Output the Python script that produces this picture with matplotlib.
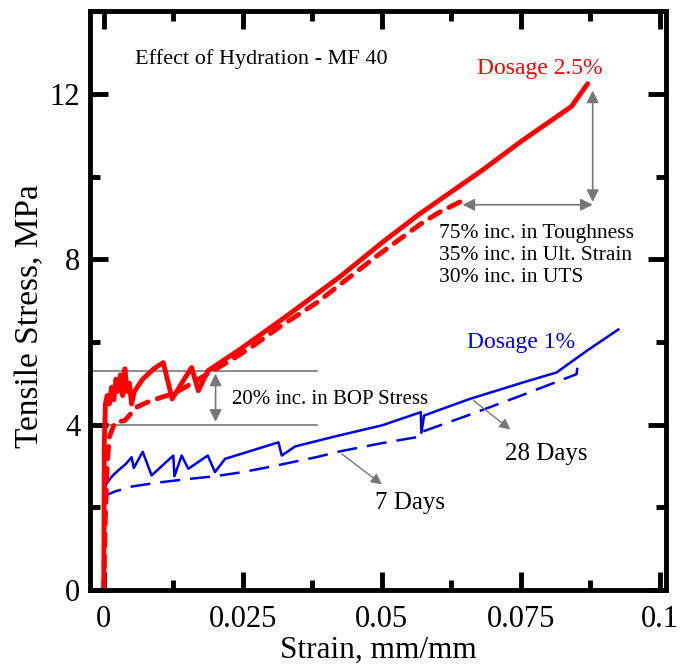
'''
Effect of hydration - tensile stress vs strain, MF 40
'''

import numpy as np
import matplotlib.pyplot as plt
from matplotlib.ticker import MultipleLocator

plt.rcParams['font.family'] = ['Liberation Serif', 'DejaVu Serif']

# Dosage 2.5%, 28 days (solid red)
red28_x = [0.0, 0.0001, 0.0003, 0.0006, 0.0010, 0.0014, 0.0018, 0.0022, 0.0026, 0.0030,
           0.0034, 0.0038, 0.0042, 0.0046, 0.0050, 0.0055, 0.0070, 0.0090, 0.0107, 0.0123,
           0.0140, 0.0158, 0.0170, 0.0187, 0.0245, 0.0326, 0.0424, 0.0500, 0.0568, 0.0680,
           0.0750, 0.0841, 0.0870]
red28_y = [0.0, 3.6, 4.5, 4.7, 4.5, 4.9, 4.6, 5.1, 4.8, 5.2,
           4.7, 5.35, 4.8, 5.0, 4.5, 4.8, 5.1, 5.35, 5.5, 4.62,
           5.0, 5.38, 4.82, 5.3, 5.82, 6.6, 7.57, 8.4, 9.1, 10.15,
           10.85, 11.7, 12.25]

# Dosage 2.5%, 7 days (dashed red)
red7_x = [0.0, 0.0003, 0.0006, 0.0010, 0.0020, 0.0038, 0.0059, 0.0080, 0.0104, 0.0125,
          0.0146, 0.0176, 0.0236, 0.0268, 0.0320, 0.0383, 0.0490, 0.0568, 0.0601, 0.0642]
red7_y = [0.0, 1.8, 3.0, 3.7, 4.05, 4.1, 4.42, 4.55, 4.66, 4.75,
          4.9, 5.14, 5.62, 5.9, 6.4, 6.95, 8.07, 8.84, 9.12, 9.4]

# Dosage 1%, 28 days (solid blue)
blue28_x = [0.0, 0.0002, 0.0005, 0.0015, 0.0026, 0.0040, 0.0050, 0.0054, 0.0070, 0.0086,
            0.0125, 0.0127, 0.0140, 0.0152, 0.0187, 0.0200, 0.0218, 0.0314, 0.0320, 0.0344,
            0.0415, 0.0500, 0.0570, 0.0571, 0.0576, 0.0658, 0.0754, 0.0814, 0.0870, 0.0925]
blue28_y = [0.0, 2.45, 2.57, 2.75, 2.89, 3.05, 3.21, 2.95, 3.34, 2.77,
            3.25, 2.75, 3.25, 2.93, 3.25, 2.85, 3.17, 3.57, 3.25, 3.47,
            3.71, 3.98, 4.3, 3.8, 4.22, 4.62, 5.02, 5.26, 5.8, 6.3]

# Dosage 1%, 7 days (dashed blue)
blue7_x = [0.0, 0.0003, 0.0006, 0.0020, 0.0050, 0.0100, 0.0150, 0.0200, 0.0250, 0.0300,
           0.0385, 0.0424, 0.0500, 0.0565, 0.0571, 0.0650, 0.0750, 0.0850, 0.0852]
blue7_y = [0.0, 2.0, 2.3, 2.38, 2.5, 2.6, 2.68, 2.75, 2.85, 2.98,
           3.22, 3.35, 3.55, 3.7, 3.82, 4.2, 4.7, 5.22, 5.45]

bop_low = 4.0
bop_high = 5.3

fig = plt.figure(figsize=(6.86, 6.68), dpi=100)
ax = fig.add_axes([0.131, 0.117, 0.840, 0.866])

ax.plot(blue7_x, blue7_y, color='#0000ee', lw=1.8, ls=(0, (8, 4)))
ax.plot(blue28_x, blue28_y, color='#0000ee', lw=1.8)
ax.plot(red7_x, red7_y, color='#ff0000', lw=3.5, ls=(0, (2.5, 2)), dash_capstyle='round')
ax.plot(red28_x, red28_y, color='#ff0000', lw=3.5, solid_capstyle='round')

# BOP stress band
ax.plot([-0.003, 0.0383], [bop_high, bop_high], color='#777777', lw=1.2, zorder=1)
ax.plot([-0.003, 0.0383], [bop_low, bop_low], color='#777777', lw=1.2, zorder=1)
ax.annotate('', xy=(0.0201, bop_low), xytext=(0.0201, bop_high),
            arrowprops=dict(arrowstyle='<|-|>', color='#777777', lw=1.2, mutation_scale=18))
ax.text(0.0230, 4.6, '20% inc. in BOP Stress', fontsize=15, va='center')

# ultimate strength / strain arrows
ax.annotate('', xy=(0.0879, 12.15), xytext=(0.0879, 9.32),
            arrowprops=dict(arrowstyle='<|-|>', color='#777777', lw=1.2, mutation_scale=18))
ax.annotate('', xy=(0.0640, 9.32), xytext=(0.0884, 9.32),
            arrowprops=dict(arrowstyle='<|-|>', color='#777777', lw=1.2, mutation_scale=18))
ax.text(0.0603, 8.63, '75% inc. in Toughness', fontsize=15.5, va='center')
ax.text(0.0603, 8.09, '35% inc. in Ult. Strain', fontsize=15.5, va='center')
ax.text(0.0603, 7.55, '30% inc. in UTS', fontsize=15.5, va='center')

ax.text(0.0783, 12.62, 'Dosage 2.5%', color='#ff0000', fontsize=17, ha='center', va='center')
ax.text(0.0751, 5.98, 'Dosage 1%', color='#0000ee', fontsize=17, ha='center', va='center')
ax.text(0.0056, 12.85, 'Effect of Hydration - MF 40', fontsize=16, va='center')

ax.annotate('', xy=(0.0735, 3.84), xytext=(0.0661, 4.62),
            arrowprops=dict(arrowstyle='-|>', color='#777777', lw=1.0, mutation_scale=16))
ax.text(0.0796, 3.29, '28 Days', fontsize=18, ha='center', va='center')
ax.annotate('', xy=(0.0504, 2.51), xytext=(0.0424, 3.33),
            arrowprops=dict(arrowstyle='-|>', color='#777777', lw=1.0, mutation_scale=16))
ax.text(0.0550, 2.09, '7 Days', fontsize=18, ha='center', va='center')

ax.set_xlim(-0.0025, 0.1011)
ax.set_ylim(0, 14)
ax.xaxis.set_major_locator(MultipleLocator(0.025))
ax.xaxis.set_minor_locator(MultipleLocator(0.0125))
ax.yaxis.set_major_locator(MultipleLocator(4))
ax.yaxis.set_minor_locator(MultipleLocator(2))
ax.set_xticks([0, 0.025, 0.05, 0.075, 0.1])
ax.set_xticklabels(['0', '0.025', '0.05', '0.075', '0.1'])
ax.tick_params(which='both', direction='in', top=True, right=True, labelsize=22, width=3.5)
ax.tick_params(axis='x', pad=11)
ax.tick_params(axis='y', pad=7)
ax.tick_params(which='major', length=13)
ax.tick_params(which='minor', length=7)
for s in ax.spines.values():
    s.set_linewidth(3.5)

ax.set_xlabel('Strain, mm/mm', fontsize=22.5, labelpad=1)
ax.set_ylabel('Tensile Stress, MPa', fontsize=24)
ax.yaxis.set_label_coords(-0.078, 0.474)

plt.savefig('out.png', dpi=100)
